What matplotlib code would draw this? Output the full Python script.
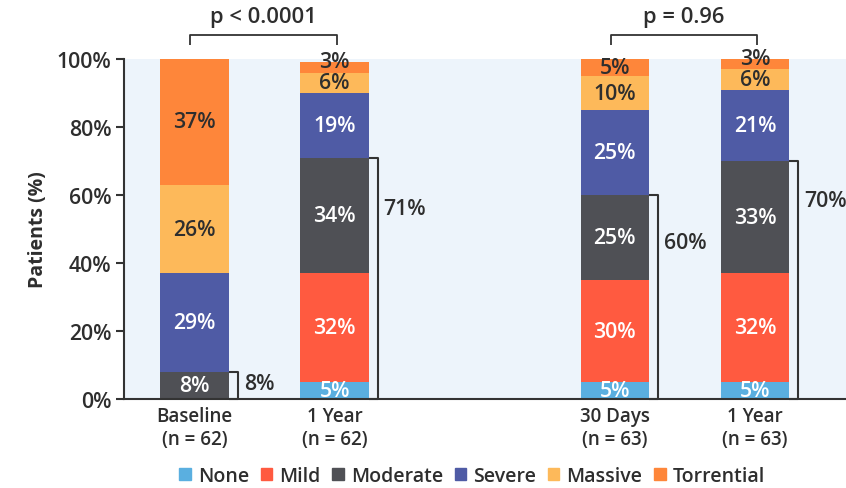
import matplotlib
matplotlib.use("Agg")
import matplotlib.pyplot as plt
from matplotlib.path import Path
from matplotlib.patches import PathPatch

plt.rcParams['font.family'] = ['Open Sans', 'DejaVu Sans']

groups = ["Baseline\n(n = 62)", "1 Year\n(n = 62)", "30 Days\n(n = 63)", "1 Year\n(n = 63)"]
positions = [0, 1, 3, 4]
grades = ["None", "Mild", "Moderate", "Severe", "Massive", "Torrential"]
none_ = [0, 5, 5, 5]
mild = [0, 32, 30, 32]
moderate = [8, 34, 25, 33]
severe = [29, 19, 25, 21]
massive = [26, 6, 10, 6]
torrential = [37, 3, 5, 3]
moderate_or_less = [8, 71, 60, 70]
p_labels = ["p < 0.0001", "p = 0.96"]

colors = ["#5aafe0", "#ff5a40", "#4f5055", "#4f5ba5", "#fdb95a", "#fe863a"]
text_colors = ["white", "white", "white", "white", "#2e2e2e", "#2e2e2e"]
series = [none_, mild, moderate, severe, massive, torrential]
ink = "#2e2e2e"
fs = 15.3
wt = "semibold"

fig = plt.figure(figsize=(8.46, 4.89), dpi=100)
ax = fig.add_axes([124 / 846, 1 - 400 / 489, 1 - 124 / 846, 340 / 489])
ax.set_facecolor("#edf4fb")

width = 0.49
bottoms = [0, 0, 0, 0]
for vals, col, tcol in zip(series, colors, text_colors):
    ax.bar(positions, vals, width, bottom=bottoms, color=col, edgecolor="none", zorder=2)
    for x, v, b in zip(positions, vals, bottoms):
        if v > 0:
            # thin top segments get their label lifted a touch
            lift = 1.7 if v <= 3 else 0.0
            ax.text(x, b + v / 2 + lift, f"{v}%", ha="center", va="center", color=tcol,
                    fontsize=fs, fontweight=wt, zorder=3)
    bottoms = [b + v for b, v in zip(bottoms, vals)]

ax.set_xlim(-0.504, 4.65)
ax.set_ylim(0, 100)
ax.set_yticks([0, 20, 40, 60, 80, 100])
ax.set_yticklabels([f"{t}%" for t in [0, 20, 40, 60, 80, 100]], fontsize=fs,
                   color=ink, fontweight=wt)
ax.set_xticks(positions)
ax.set_xticklabels(groups, fontsize=13.5, color=ink, fontweight=wt,
                   linespacing=1.2)
ax.tick_params(axis="x", length=0, pad=5)
ax.tick_params(axis="y", length=6, width=1.5, color="#333333", direction="out", pad=3)
for s in ["top", "right"]:
    ax.spines[s].set_visible(False)
for s in ["left", "bottom"]:
    ax.spines[s].set_color("#333333")
    ax.spines[s].set_linewidth(1.5)
ax.set_ylabel("Patients (%)", fontsize=14, fontweight="bold", color=ink, labelpad=6)

# Right-hand brackets spanning grades up to moderate
label_y = [4.7, 56, 46, 58.5]
for x, v, ly in zip(positions, moderate_or_less, label_y):
    x0 = x + width / 2
    x1 = x0 + 0.065
    verts = [(x0, v), (x1, v), (x1, 0), (x0, 0)]
    path = Path(verts, [Path.MOVETO, Path.LINETO, Path.LINETO, Path.LINETO])
    ax.add_patch(PathPatch(path, fill=False, edgecolor="#333333", lw=1.5,
                           joinstyle="round", zorder=4, clip_on=False))
    ax.text(x1 + 0.04, ly, f"{v}%", ha="left", va="center", fontsize=fs,
            fontweight=wt, color=ink)

# Comparison brackets above the bars
for (xa, xb), lab in zip([(0, 1), (3, 4)], p_labels):
    xa -= 0.03
    xb += 0.015
    yb = 104
    yt = 107
    verts = [(xa, yb), (xa, yt), (xb, yt), (xb, yb)]
    path = Path(verts, [Path.MOVETO, Path.LINETO, Path.LINETO, Path.LINETO])
    ax.add_patch(PathPatch(path, fill=False, edgecolor="#333333", lw=1.3,
                           joinstyle="round", clip_on=False))
    ax.text((xa + xb) / 2, 112.5, lab, ha="center", va="center", fontsize=15.8,
            fontweight=wt, color=ink)

# Legend
handles = [plt.Rectangle((0, 0), 1, 1, color=c) for c in colors]
leg = fig.legend(handles, grades, loc="center", bbox_to_anchor=(472 / 846, 1 - 477 / 489),
                 ncol=6, frameon=False, handlelength=0.6, handleheight=0.6,
                 handletextpad=0.35, columnspacing=0.6,
                 prop={"size": 14, "weight": wt})
for t in leg.get_texts():
    t.set_color(ink)

fig.savefig("out.png", dpi=100)
